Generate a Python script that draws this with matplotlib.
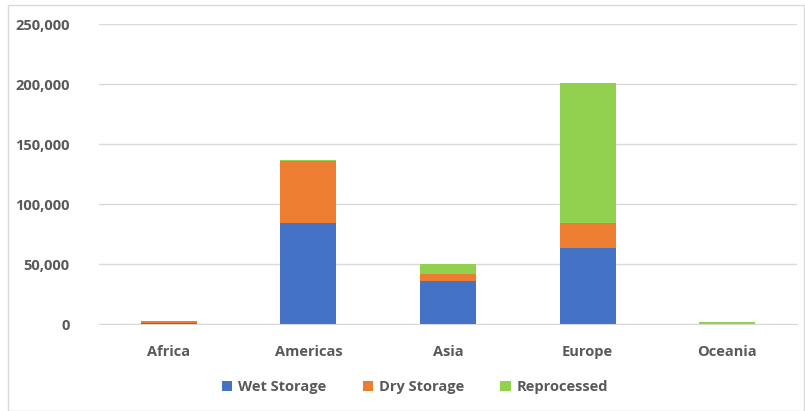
import matplotlib
matplotlib.use("Agg")
import matplotlib.pyplot as plt
from matplotlib.ticker import FuncFormatter
from matplotlib.patches import Rectangle
import numpy as np

regions = ["Africa", "Americas", "Asia", "Europe", "Oceania"]
wet_storage = [1200, 84000, 36000, 63000, 0]
dry_storage = [1000, 52000, 6000, 21000, 0]
reprocessed = [0, 1000, 8000, 117000, 1600]
series_names = ["Wet Storage", "Dry Storage", "Reprocessed"]
colors = ["#4472C4", "#ED7D31", "#92D050"]
yticks = [0, 50000, 100000, 150000, 200000, 250000]

plt.rcParams['font.family'] = ['Open Sans', 'DejaVu Sans']

fig = plt.figure(figsize=(8.05, 4.11), dpi=100)
ax = fig.add_axes([99/805, 1-324/411, (797-99)/805, 300/411])

x = np.arange(len(regions))
w = 0.4
b1 = np.array(wet_storage)
b2 = b1 + np.array(dry_storage)
ax.bar(x, wet_storage, w, color=colors[0], label=series_names[0], zorder=3)
ax.bar(x, dry_storage, w, bottom=b1, color=colors[1], label=series_names[1], zorder=3)
ax.bar(x, reprocessed, w, bottom=b2, color=colors[2], label=series_names[2], zorder=3)

ax.set_xlim(-0.5, len(regions) - 0.5)
ax.set_ylim(0, 250000)
ax.set_yticks(yticks)
ax.yaxis.set_major_formatter(FuncFormatter(lambda v, p: f"{int(v):,}"))
ax.grid(axis='y', color='#d9d9d9', linewidth=1, zorder=0)
for s in ['top', 'right', 'left']:
    ax.spines[s].set_visible(False)
ax.spines['bottom'].set_color('#d9d9d9')
ax.spines['bottom'].set_zorder(1)
ax.tick_params(axis='both', length=0, labelsize=10.5, colors='#595959')
ax.tick_params(axis='y', pad=21)
ax.tick_params(axis='x', pad=15)
ax.set_xticks(x)
ax.set_xticklabels(regions, fontweight='bold')
for lbl in ax.get_yticklabels():
    lbl.set_fontweight('bold')

leg = fig.legend(loc='center', bbox_to_anchor=(415/805, 1-387/411), ncol=3, frameon=False,
                 handlelength=0.7, handleheight=0.7, columnspacing=2.5, handletextpad=0.4,
                 prop={'weight': 'bold', 'size': 10.5})
for t in leg.get_texts():
    t.set_color('#595959')

fig.patches.append(Rectangle((8/805, 0), 1 - 8/805 - 0.001, 1 - 5/411, transform=fig.transFigure,
                             fill=False, edgecolor='#d9d9d9', linewidth=1))

fig.savefig("out.png", dpi=100)
